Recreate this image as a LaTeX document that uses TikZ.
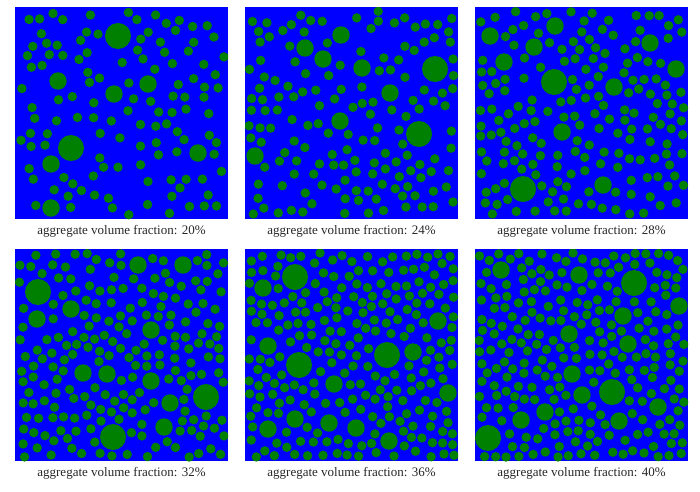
\documentclass[tikz,border=0pt]{standalone}
\usepackage{fontspec}
\setmainfont{Liberation Serif}
\definecolor{MatrixBlue}{HTML}{0000FF}
\definecolor{AggGreen}{HTML}{008000}

\newcommand{\smallrad}{4.7}
\newcount\aggtries
\newcount\aggcount
\newif\ifaggfree
% distance test in tenths of a unit: candidate (\cx,\cy) against (#1,#2), min distance #3
\def\aggtest#1#2#3{%
  \ifnum\numexpr(\cx-#1)*(\cx-#1)+(\cy-#2)*(\cy-#2)\relax<\numexpr#3*#3\relax
    \aggfreefalse
  \fi}
\def\aggbin#1#2{\csname aggbin-\aggid-\the\numexpr\bx+#1\relax-\the\numexpr\by+#2\relax\endcsname}
% one try of random sequential placement
\def\aggstep{%
  \pgfmathrandominteger{\cx}{40}{2090}%
  \pgfmathrandominteger{\cy}{40}{2080}%
  \edef\bx{\the\numexpr(\cx-50)/100\relax}%
  \edef\by{\the\numexpr(\cy-50)/100\relax}%
  \aggfreetrue
  \biglist
  \aggbin{-1}{-1}\aggbin{0}{-1}\aggbin{1}{-1}%
  \aggbin{-1}{0}\aggbin{0}{0}\aggbin{1}{0}%
  \aggbin{-1}{1}\aggbin{0}{1}\aggbin{1}{1}%
  \ifaggfree
    \fill[AggGreen] (\cx/10,\cy/10) circle (\smallrad);
    \expandafter\ifx\csname aggbin-\aggid-\bx-\by\endcsname\relax
      \expandafter\gdef\csname aggbin-\aggid-\bx-\by\endcsname{}%
    \fi
    \expandafter\xdef\csname aggbin-\aggid-\bx-\by\endcsname{%
      \unexpanded\expandafter\expandafter\expandafter{\csname aggbin-\aggid-\bx-\by\endcsname}%
      \noexpand\aggtest{\cx}{\cy}{99}}%
    \advance\aggcount by 1
    \ifnum\aggcount=\aggtarget\relax \aggtries=100000 \fi
  \fi
  \advance\aggtries by 1
  \ifnum\aggtries<20000 \expandafter\aggstep\fi}

% #1,#2: top left corner, #3: number of small aggregates, #4: seed,
% #5: large aggregates x/y/r, #6: fraction
\newcommand{\aggpanel}[6]{%
  \def\aggid{#6}%
  \def\aggtarget{#3}%
  \begin{scope}[shift={(#1,#2)}]
    \fill[MatrixBlue] (0,0) rectangle (213,212);
    \begin{scope}
      \clip (0,0) rectangle (213,212);
      % Large aggregates
      \gdef\biglist{}
      \foreach \lx/\ly/\lr in {#5}{
        \fill[AggGreen] (\lx,\ly) circle (\lr);
        \pgfmathtruncatemacro\tx{10*\lx}
        \pgfmathtruncatemacro\ty{10*\ly}
        \pgfmathtruncatemacro\td{10*(\lr+\smallrad+1)}
        \xdef\biglist{\unexpanded\expandafter{\biglist}\noexpand\aggtest{\tx}{\ty}{\td}}
      }
      % Small aggregates
      \pgfmathsetseed{#4}
      \aggtries=0 \aggcount=0
      \aggstep
    \end{scope}
  \end{scope}
  \node[panel label] (lab#6) at (#1+106.5,#2+224) {aggregate volume fraction: #6\%};
}

\begin{document}
\begin{tikzpicture}[x=1pt, y=-1pt,
    panel label/.style={font=\fontsize{13}{15}\selectfont, text=black!85}]
    \useasboundingbox (0,0) rectangle (700,491);

    % Top row: 20%, 24%, 28%
    \aggpanel{15}{7}{120}{11}{103/29/13, 56/141/13, 43/74/8.7, 133/77/8.7, 99/87/8.7, 36/157/8.7, 183/146/8.7, 36/201/8.7}{20}
    \aggpanel{245}{7}{150}{23}{190/62/13, 174/127/13, 96/28/8.7, 60/41/8.7, 78/52/8.7, 117/61/8.7, 145/86/8.7, 95/114/8.7, 10/149/8.7}{24}
    \aggpanel{475}{7}{180}{37}{79/75/13, 48/182/13, 15/29/8.7, 80/19/8.7, 59/40/8.7, 29/55/8.7, 175/36/8.7, 201/62/8.7, 139/80/8.7, 87/125/8.7, 128/178/8.7}{28}

    % Bottom row: 32%, 36%, 40%
    \aggpanel{15}{249}{205}{41}{23/43/13, 191/148/13, 98/188/13, 123/16/8.7, 168/16/8.7, 56/60/8.7, 22/70/8.7, 136/81/8.7, 68/124/8.7, 92/125/8.7, 136/132/8.7, 155/154/8.7, 149/178/8.7}{32}
    \aggpanel{245}{249}{235}{53}{50/28/13, 54/116/13, 142/106/13, 18/39/8.7, 193/72/8.7, 23/97/8.7, 168/103/8.7, 89/135/8.7, 203/144/8.7, 50/170/8.7, 84/174/8.7, 111/179/8.7, 23/180/8.7, 144/192/8.7}{36}
    \aggpanel{475}{249}{265}{67}{159/34/13, 137/143/13, 13/189/13, 26/21/8.7, 104/26/8.7, 204/57/8.7, 148/67/8.7, 94/85/8.7, 153/95/8.7, 97/125/8.7, 107/146/8.7, 183/158/8.7, 70/163/8.7, 46/171/8.7, 144/172/8.7}{40}
\end{tikzpicture}
\end{document}
